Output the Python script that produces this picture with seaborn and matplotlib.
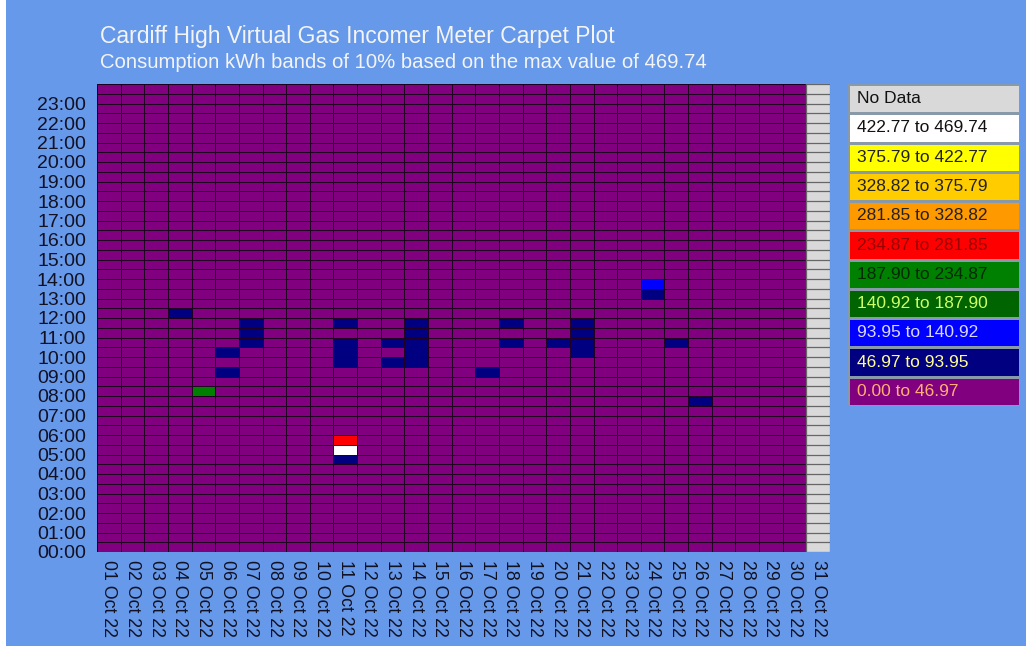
import numpy as np
import pandas as pd
import matplotlib
matplotlib.use('Agg')
import matplotlib.pyplot as plt
from matplotlib.colors import ListedColormap, BoundaryNorm
from matplotlib.patches import Rectangle
import seaborn as sns

# kWh band edges (10% of the max value 469.74)
band_edges = [0.00, 46.97, 93.95, 140.92, 187.90, 234.87, 281.85, 328.82, 375.79, 422.77, 469.74]
band_colors = ['#800080', '#000080', '#0000ff', '#006400', '#008000',
               '#ff0000', '#ff9900', '#ffcc00', '#ffff00', '#ffffff']
band_text = ['#ffb070', '#ffff99', '#d8d8ff', '#ccff66', '#002a00',
             '#990000', '#222222', '#222222', '#222222', '#111111']
no_data_color = '#d9d9d9'

days = [f"{d:02d} Oct 22" for d in range(1, 32)]
times = [f"{h:02d}:{m:02d}" for h in range(24) for m in (0, 30)]
no_data_days = [31]

# every half hour not listed below reads in the lowest band (0.00 to 46.97)
base_kwh = 25.0
high_day = [4, 5, 6, 6, 7, 7, 7,
            11, 11, 11, 11, 11, 11, 11,
            13, 13, 14, 14, 14, 14, 14,
            17, 18, 18, 20, 21, 21, 21, 21,
            24, 24, 25, 26]
high_time = ['12:00', '08:00', '09:00', '10:00', '10:30', '11:00', '11:30',
             '04:30', '05:00', '05:30', '09:30', '10:00', '10:30', '11:30',
             '09:30', '10:30', '09:30', '10:00', '10:30', '11:00', '11:30',
             '09:00', '10:30', '11:30', '10:30', '10:00', '10:30', '11:00', '11:30',
             '13:00', '13:30', '10:30', '07:30']
high_kwh = [62, 205, 71, 66, 80, 84, 77,
            68, 469.74, 262, 74, 88, 81, 69,
            63, 72, 76, 90, 86, 83, 70,
            58, 64, 67, 61, 73, 85, 82, 75,
            79, 112, 60, 65]

grid = pd.DataFrame(base_kwh, index=times, columns=days)
for d in no_data_days:
    grid[days[d - 1]] = np.nan
for d, t, v in zip(high_day, high_time, high_kwh):
    grid.loc[t, days[d - 1]] = v
grid = grid.iloc[::-1]  # 23:30 at the top

fig = plt.figure(figsize=(10.26, 6.48), dpi=100)
fig.patch.set_facecolor('white')
fig.patches.append(Rectangle((6 / 1026, 2 / 648), 1, 1, transform=fig.transFigure,
                             facecolor='#6699ea', edgecolor='none', zorder=-5))

plt.rcParams['font.family'] = ['Liberation Sans', 'DejaVu Sans']

ax = fig.add_axes([97 / 1026, 1 - 552 / 648, 733 / 1026, 468 / 648])
cmap = ListedColormap(band_colors)
cmap.set_bad(no_data_color)
cmap.set_over('#ffffff')
norm = BoundaryNorm(band_edges, cmap.N)
sns.heatmap(grid, ax=ax, cmap=cmap, norm=norm, cbar=False,
            linewidths=0.55, linecolor='#200020',
            xticklabels=days, yticklabels=False)
ax.set_facecolor(no_data_color)
# grey grid lines over the no-data column
for r in range(len(times) + 1):
    ax.plot([30, 31], [r, r], color='#666666', lw=0.9)
ax.plot([30, 30], [0, 48], color='#666666', lw=0.9)
ax.plot([31, 31], [0, 48], color='#666666', lw=0.9)
ax.set_xlabel('')
ax.set_ylabel('')
hour_pos = [48 - 2 * h for h in range(24)]
ax.set_yticks(hour_pos)
ax.set_yticklabels([f"{h:02d}:00" for h in range(24)], rotation=0,
                   fontsize=14, color='#111122')
ax.set_xticklabels(days, rotation=-90, fontsize=12.8, color='#111122')
ax.tick_params(length=0, pad=8)
ax.tick_params(axis='x', pad=6)

# band legend
lax = fig.add_axes([848 / 1026, 1 - 406 / 648, 172 / 1026, 322 / 648])
legend_labels = ['No Data'] + [f"{band_edges[i]:.2f} to {band_edges[i + 1]:.2f}"
                               for i in range(9, -1, -1)]
legend_colors = [no_data_color] + band_colors[::-1]
legend_text = ['#111111'] + band_text[::-1]
legend_data = np.arange(len(legend_labels)).reshape(-1, 1)
sns.heatmap(legend_data, ax=lax, cmap=ListedColormap(legend_colors),
            vmin=-0.5, vmax=len(legend_labels) - 0.5, cbar=False,
            annot=np.array(legend_labels).reshape(-1, 1), fmt='',
            linewidths=0.8, linecolor='#8899aa',
            xticklabels=False, yticklabels=False)
for txt, c in zip(lax.texts, legend_text):
    txt.set_ha('left')
    txt.set_x(0.05)
    txt.set_color(c)
    txt.set_fontsize(12.5)

fig.text(100 / 1026, 1 - 36 / 648, 'Cardiff High Virtual Gas Incomer Meter Carpet Plot',
         color='#f4f4f4', fontsize=16.5, va='center')
fig.text(100 / 1026, 1 - 62 / 648, 'Consumption kWh bands of 10% based on the max value of 469.74',
         color='#f4f4f4', fontsize=14.6, va='center')

fig.savefig('out.png', dpi=100, facecolor=fig.get_facecolor())
